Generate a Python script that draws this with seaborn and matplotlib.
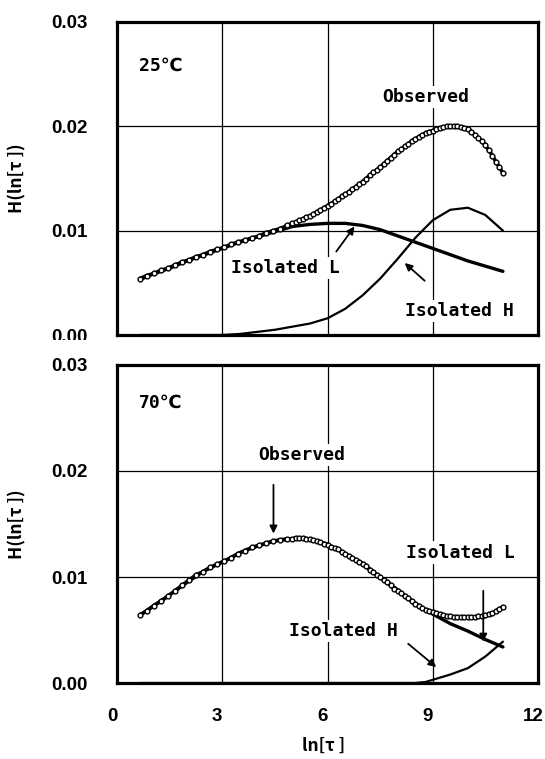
import matplotlib
matplotlib.use("Agg")
import matplotlib.pyplot as plt
import matplotlib.transforms as mtransforms
from matplotlib.patches import Rectangle
import seaborn as sns
import pandas as pd

sns.set_theme(style="white", rc={"text.color": "black", "axes.labelcolor": "black",
                                 "xtick.color": "black", "ytick.color": "black"})
plt.rcParams['font.family'] = ['DejaVu Sans', 'Noto Sans CJK JP']

# ---------------- data: 25 C ----------------
obs25_x = [0.65, 0.85, 1.05, 1.25, 1.45, 1.65, 1.85, 2.05, 2.25, 2.45, 2.65, 2.85,
           3.05, 3.25, 3.45, 3.65, 3.85, 4.05, 4.25, 4.45, 4.65, 4.85,
           5.0, 5.1, 5.2, 5.3, 5.4, 5.5, 5.6, 5.7, 5.8, 5.9,
           6.0, 6.1, 6.2, 6.3, 6.4, 6.5, 6.6, 6.7, 6.8, 6.9,
           7.0, 7.1, 7.2, 7.3, 7.4, 7.5, 7.6, 7.7, 7.8, 7.9,
           8.0, 8.1, 8.2, 8.3, 8.4, 8.5, 8.6, 8.7, 8.8, 8.9,
           9.0, 9.1, 9.2, 9.3, 9.4, 9.5, 9.6, 9.7, 9.8, 9.9,
           10.0, 10.1, 10.2, 10.3, 10.4, 10.5, 10.6, 10.7, 10.8, 10.9, 11.0]
obs25_y = [0.0054, 0.0057, 0.0059, 0.0062, 0.0064, 0.0067, 0.0070, 0.0072, 0.0075, 0.0077, 0.0080, 0.0082,
           0.0084, 0.0087, 0.0089, 0.0091, 0.0093, 0.0095, 0.0098, 0.0100, 0.0102, 0.0105,
           0.0107, 0.0108, 0.0110, 0.0111, 0.0113, 0.0114, 0.0116, 0.0118, 0.0120, 0.0122,
           0.0124, 0.0126, 0.0128, 0.0130, 0.0133, 0.0135, 0.0137, 0.0140, 0.0142, 0.0145,
           0.0147, 0.0150, 0.0153, 0.0156, 0.0158, 0.0161, 0.0164, 0.0167, 0.0170, 0.0173,
           0.0176, 0.0178, 0.0181, 0.0183, 0.0186, 0.0188, 0.0190, 0.0192, 0.0194, 0.0195,
           0.0196, 0.0197, 0.0198, 0.0199, 0.0200, 0.0200, 0.0200, 0.0200, 0.0199, 0.0198,
           0.0197, 0.0195, 0.0192, 0.0189, 0.0186, 0.0182, 0.0177, 0.0172, 0.0166, 0.0161, 0.0155]

comp25_x = [0.65, 1.0, 1.5, 2.0, 2.5, 3.0, 3.5, 4.0, 4.5, 5.0, 5.5, 6.0, 6.5,
            7.0, 7.5, 8.0, 8.5, 9.0, 9.5, 10.0, 10.5, 11.0]
isoL25_y = [0.0053, 0.0058, 0.0064, 0.0071, 0.0077, 0.0083, 0.0089, 0.0094, 0.0099, 0.0104, 0.0106,
            0.0107, 0.0107, 0.0105, 0.0101, 0.0095, 0.0089, 0.0083, 0.0077, 0.0071, 0.0066, 0.0061]
isoH25_y = [0.0, 0.0, 0.0, 0.0, 0.0, 0.0, 0.0001, 0.0003, 0.0005, 0.0008, 0.0011,
            0.0016, 0.0025, 0.0038, 0.0054, 0.0073, 0.0093, 0.0110, 0.0120, 0.0122, 0.0115, 0.0100]

# ---------------- data: 70 C ----------------
obs70_x = obs25_x
obs70_y = [0.0064, 0.0068, 0.0073, 0.0077, 0.0082, 0.0087, 0.0092, 0.0097, 0.0102, 0.0105, 0.0109, 0.0112,
           0.0115, 0.0118, 0.0122, 0.0125, 0.0128, 0.0130, 0.0132, 0.0134, 0.0135, 0.0136,
           0.0136, 0.0137, 0.0137, 0.0137, 0.0136, 0.0136, 0.0135, 0.0134, 0.0133, 0.0131,
           0.0130, 0.0128, 0.0127, 0.0126, 0.0124, 0.0122, 0.0120, 0.0118, 0.0116, 0.0114,
           0.0112, 0.0110, 0.0107, 0.0105, 0.0102, 0.0100, 0.0097, 0.0095, 0.0092, 0.0089,
           0.0087, 0.0085, 0.0082, 0.0080, 0.0077, 0.0075, 0.0073, 0.0071, 0.0069, 0.0068,
           0.0067, 0.0066, 0.0065, 0.0064, 0.0063, 0.0063, 0.0062, 0.0062, 0.0062, 0.0062,
           0.0062, 0.0062, 0.0062, 0.0063, 0.0063, 0.0064, 0.0065, 0.0066, 0.0068, 0.0070, 0.0072]

comp70_x = [0.65, 1.0, 1.5, 2.0, 2.5, 3.0, 3.5, 4.0, 4.5, 5.0, 5.5, 6.0, 6.5,
            7.0, 7.5, 8.0, 8.5, 8.8, 9.0, 9.5, 10.0, 10.5, 11.0]
isoL70_y = [0.0064, 0.0072, 0.0083, 0.0095, 0.0106, 0.0114, 0.0123, 0.0129, 0.0134, 0.0136, 0.0136,
            0.0131, 0.0122, 0.0113, 0.0100, 0.0088, 0.0075, 0.0069, 0.0065, 0.0056, 0.0049, 0.0041, 0.0034]
isoH70_y = [0.0, 0.0, 0.0, 0.0, 0.0, 0.0, 0.0, 0.0, 0.0, 0.0, 0.0,
            0.0, 0.0, 0.0, 0.0, 0.0, 0.0, 0.0001, 0.0003, 0.0008, 0.0014, 0.0025, 0.0039]

x_ticks = [0, 3, 6, 9, 12]
y_ticks = [0.00, 0.01, 0.02, 0.03]
y_ticklabels = ["0.00", "0.01", "0.02", "0.03"]
ylabel_text = "H(ln[τ ])"
xlabel_text = "ln[τ ]"

panels = [
    dict(title="25℃", obs_x=obs25_x, obs_y=obs25_y, cx=comp25_x, L=isoL25_y, H=isoH25_y,
         notes=[("Observed", (8.8, 0.0228), None),
                ("Isolated L", (4.8, 0.0064), ((6.25, 0.0080), (6.77, 0.0104))),
                ("Isolated H", (9.76, 0.0023), ((8.77, 0.0052), (8.2, 0.0069)))]),
    dict(title="70℃", obs_x=obs70_x, obs_y=obs70_y, cx=comp70_x, L=isoL70_y, H=isoH70_y,
         notes=[("Observed", (5.26, 0.0215), ((4.46, 0.0187), (4.46, 0.0141))),
                ("Isolated L", (9.79, 0.0123), ((10.44, 0.0087), (10.44, 0.0039))),
                ("Isolated H", (6.46, 0.0049), ((8.3, 0.0037), (9.1, 0.0015)))]),
]

W, H = 545, 759
fig = plt.figure(figsize=(W / 100, H / 100), dpi=100)
fig.patch.set_facecolor("white")
ax_top = fig.add_axes([117 / W, 1 - 335 / H, 421 / W, 313 / H])
ax_bot = fig.add_axes([117 / W, 1 - 683 / H, 421 / W, 318 / H])

tick_font = dict(family=['Liberation Sans', 'DejaVu Sans'], weight='bold', size=13.5, color='black')
note_font = dict(family=['DejaVu Sans Mono', 'DejaVu Sans'], weight='bold', size=13, color='black')
label_font = dict(family=['Noto Sans CJK JP', 'DejaVu Sans'], weight='bold', size=12.5, color='black')

for ax, p, is_bottom in [(ax_top, panels[0], False), (ax_bot, panels[1], True)]:
    dfc = pd.DataFrame({"x": p["cx"], "L": p["L"], "H": p["H"]})
    sns.lineplot(data=dfc, x="x", y="L", ax=ax, color="black", linewidth=2.4,
                 sort=False, estimator=None, zorder=3)
    sns.lineplot(data=dfc, x="x", y="H", ax=ax, color="black", linewidth=1.6,
                 sort=False, estimator=None, zorder=3)
    dfo = pd.DataFrame({"x": p["obs_x"], "y": p["obs_y"]})
    sns.lineplot(data=dfo, x="x", y="y", ax=ax, color="black", linewidth=2.6,
                 sort=False, estimator=None, zorder=3.5)
    sns.scatterplot(data=dfo, x="x", y="y", ax=ax, marker="o", s=12,
                    facecolor="white", edgecolor="black", linewidth=1.0, zorder=4)

    ax.set_xlim(0, 12)
    ax.set_ylim(0, 0.03)
    ax.set_xticks(x_ticks)
    ax.set_yticks(y_ticks)
    ax.set_yticklabels(y_ticklabels, fontdict=tick_font)
    ax.grid(True, color="black", linewidth=0.9)
    ax.set_axisbelow(True)
    for s in ax.spines.values():
        s.set_color("black")
        s.set_linewidth(2.3)
        s.set_zorder(5)
    ax.tick_params(axis="both", length=0, colors="black")
    ax.tick_params(axis="y", pad=21)
    ax.set_ylabel(ylabel_text, fontdict=label_font)
    ax.yaxis.set_label_coords(-0.214, 0.5)

    if is_bottom:
        ax.set_xticklabels([str(t) for t in x_ticks], fontdict=tick_font)
        ax.tick_params(axis="x", pad=18)
        off = mtransforms.ScaledTranslation(-5 / 100, 0, fig.dpi_scale_trans)
        for lab in ax.get_xticklabels():
            lab.set_transform(lab.get_transform() + off)
        ax.set_xlabel(xlabel_text, fontdict=label_font)
        ax.xaxis.set_label_coords(0.49, -0.17)
    else:
        ax.set_xticklabels([])
        ax.set_xlabel("")

    ax.text(0.63, 0.0258 if not is_bottom else 0.0264, p["title"], ha="left", va="center",
            fontdict=note_font, zorder=6)
    for txt, pos, arr in p["notes"]:
        ax.text(pos[0], pos[1], txt, ha="center", va="center", fontdict=note_font, zorder=6,
                bbox=dict(facecolor="white", edgecolor="none", pad=1.5))
        if arr is not None:
            ax.annotate("", xy=arr[1], xytext=arr[0],
                        arrowprops=dict(arrowstyle="-|>", color="black", lw=1.3,
                                        mutation_scale=11, shrinkA=0, shrinkB=0),
                        zorder=6)

# white strip that clips the lower part of the top panel's 0.00 label
fig.patches.append(Rectangle((0, 1 - 356 / H), 112 / W, 16 / H, transform=fig.transFigure,
                             facecolor="white", edgecolor="none", zorder=10))

fig.savefig("out.png", dpi=100)
